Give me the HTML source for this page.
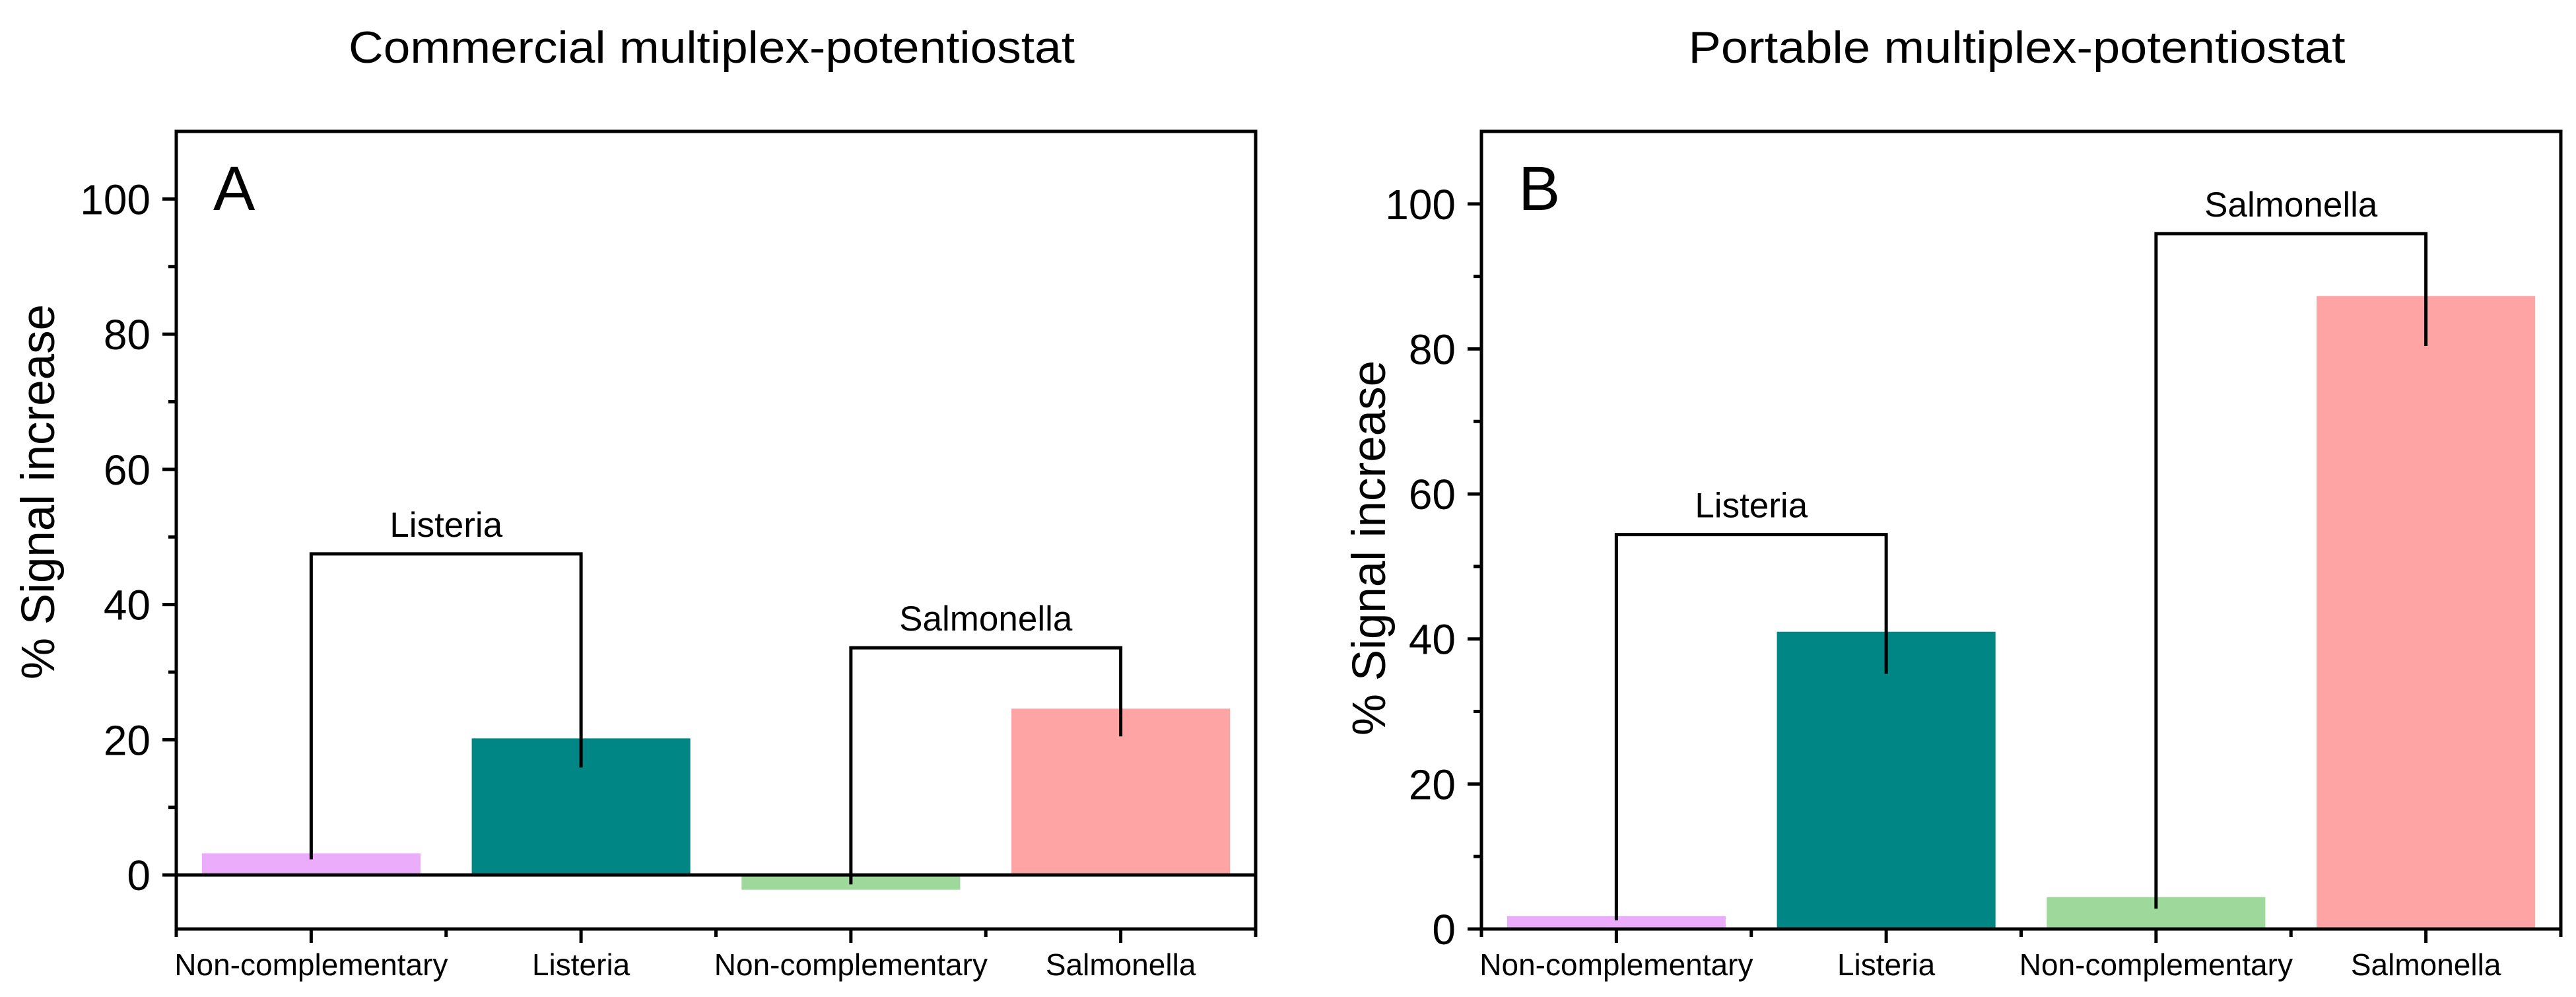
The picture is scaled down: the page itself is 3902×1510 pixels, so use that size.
<!DOCTYPE html>
<html><head><meta charset="utf-8"><style>
html,body{margin:0;padding:0;background:#fff;}
svg{display:block;}
text{font-family:"Liberation Sans",Arial,sans-serif;fill:#000;}
</style></head><body>
<svg id="chart" width="3902" height="1510" viewBox="0 0 3902 1510" xmlns="http://www.w3.org/2000/svg">
<text x="1078" y="95" font-size="68" text-anchor="middle" textLength="1100" lengthAdjust="spacingAndGlyphs">Commercial multiplex-potentiostat</text>
<text x="3055" y="95" font-size="68" text-anchor="middle" textLength="995" lengthAdjust="spacingAndGlyphs">Portable multiplex-potentiostat</text>
<g id="pA"></g>
<g id="pB"></g>
</svg>
<script>
const categories = ["Non-complementary","Listeria","Non-complementary","Salmonella"];
const colors = ["#ebadfb","#008785","#9ed89a","#ffa4a4"];
const valuesA = [3.2, 20.2, -2.2, 24.6];
const valuesB = [1.8, 41.0, 4.4, 87.3];
const groupNames = ["Listeria","Salmonella"];
const bracketTopA = [47.5, 33.6];
const whiskerEndA = [2.3, 15.9, -1.4, 20.5];
const bracketTopB = [54.4, 95.9];
const whiskerEndB = [1.2, 35.2, 2.8, 80.4];
const yTicks = [0,20,40,60,80,100];
const yMinorTicks = [10,30,50,70,90];
const NS = "http://www.w3.org/2000/svg";
function mk(parent, tag, attrs){const e=document.createElementNS(NS,tag);for(const k in attrs)e.setAttribute(k,attrs[k]);parent.appendChild(e);return e;}

function drawPanel(g, cfg){
  const {left,right,top,bottom,ymin,ymax,values,bracketTop,whiskerEnd,letter,ylabelY,ylabelX} = cfg;
  const y = v => bottom - (v - ymin) / (ymax - ymin) * (bottom - top);
  const bw = (right-left)/categories.length;
  const xc = i => left + bw*(i+0.5);
  values.forEach((v,i)=>{
    const r = mk(g,'rect',{x:xc(i)-bw*0.405,y:Math.min(y(v),y(0)),width:bw*0.81,height:Math.abs(y(v)-y(0)),fill:colors[i]});
    
    
  });
  if(ymin<0){
    const z = mk(g,'line',{x1:left,x2:right,y1:y(0),y2:y(0),stroke:'#000','stroke-width':5});
    
    
  }
  for(let k=0;k<2;k++){
    const a=2*k,b=2*k+1;
    const p = mk(g,'polyline',{points:`${xc(a)},${y(whiskerEnd[a])} ${xc(a)},${y(bracketTop[k])} ${xc(b)},${y(bracketTop[k])} ${xc(b)},${y(whiskerEnd[b])}`,fill:'none',stroke:'#000','stroke-width':5});
    
    
    const t = mk(g,'text',{x:(xc(a)+xc(b))/2,y:y(bracketTop[k])-26,'font-size':53,'text-anchor':'middle'});
    t.textContent = groupNames[k];
    
    
  }
  const f = mk(g,'rect',{x:left,y:top,width:right-left,height:bottom-top,fill:'none',stroke:'#000','stroke-width':5});
  
  
  yTicks.forEach(v=>{
    const l = mk(g,'line',{x1:left-21,x2:left,y1:y(v),y2:y(v),stroke:'#000','stroke-width':5});
    
    
    const t = mk(g,'text',{x:left-39,y:y(v)+23,'font-size':64,'text-anchor':'end'});
    t.textContent = v;
    
    
  });
  yMinorTicks.forEach(v=>{
    const l = mk(g,'line',{x1:left-12,x2:left,y1:y(v),y2:y(v),stroke:'#000','stroke-width':5});
    
    
  });
  categories.forEach((c,i)=>{
    const l = mk(g,'line',{x1:xc(i),x2:xc(i),y1:bottom,y2:bottom+21,stroke:'#000','stroke-width':5});
    
    
    const t = mk(g,'text',{x:xc(i),y:bottom+70,'font-size':46,'text-anchor':'middle'});
    t.textContent = c;
    
    
  });
  for(let i=0;i<=categories.length;i++){
    const l = mk(g,'line',{x1:left+bw*i,x2:left+bw*i,y1:bottom,y2:bottom+12,stroke:'#000','stroke-width':5});
    
    
  }
  const L = mk(g,'text',{x:left+56,y:318,'font-size':95});
  L.textContent = letter;
  
  
  const yl = mk(g,'text',{x:0,y:0,'font-size':71,'text-anchor':'middle',transform:`translate(${ylabelX},${ylabelY}) rotate(-90)`});
  yl.textContent = '% Signal increase';
  
  
}
drawPanel(document.getElementById('pA'),{left:267,right:1902,top:199,bottom:1407,ymin:-8,ymax:110,values:valuesA,bracketTop:bracketTopA,whiskerEnd:whiskerEndA,letter:'A',ylabelX:82,ylabelY:745});
drawPanel(document.getElementById('pB'),{left:2244,right:3879,top:199,bottom:1407,ymin:0,ymax:110,values:valuesB,bracketTop:bracketTopB,whiskerEnd:whiskerEndB,letter:'B',ylabelX:2098,ylabelY:830});
</script>
</body></html>
